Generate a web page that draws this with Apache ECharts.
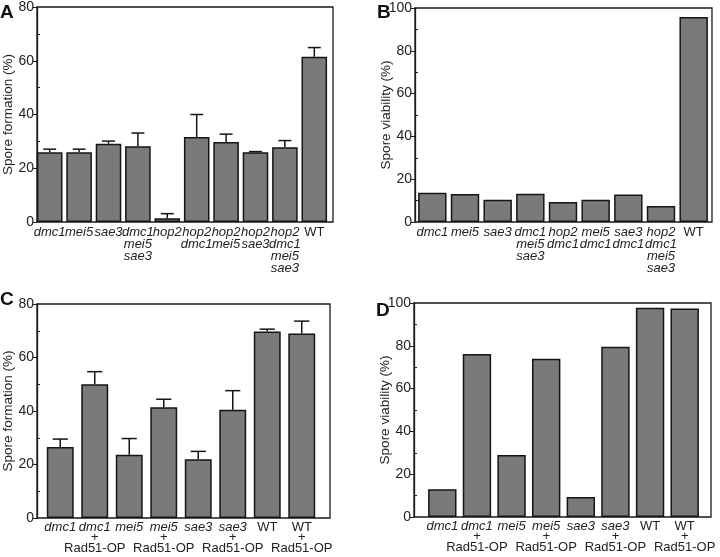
<!DOCTYPE html>
<html>
<head>
<meta charset="utf-8">
<script src="https://cdn.jsdelivr.net/npm/echarts@6/dist/echarts.min.js"></script>
<style>
  html, body { margin: 0; padding: 0; background: #fff; }
  #chart { width: 720px; height: 557px; }
</style>
</head>
<body>
<div id="chart"></div>
<script>
// Panel A: spore formation
const catsA = ["dmc1", "mei5", "sae3", "dmc1\nmei5\nsae3", "hop2", "hop2\ndmc1", "hop2\nmei5", "hop2\nsae3", "hop2\ndmc1\nmei5\nsae3", "WT"];
const valuesA = [26.0, 26.0, 29.1, 28.2, 1.4, 31.6, 29.8, 26.0, 27.8, 61.5];
const errTopA = [27.1, 27.1, 30.1, 33.1, 3.1, 40.0, 32.7, 26.2, 30.3, 64.9];

// Panel B: spore viability
const catsB = ["dmc1", "mei5", "sae3", "dmc1\nmei5\nsae3", "hop2\ndmc1", "mei5\ndmc1", "sae3\ndmc1", "hop2\ndmc1\nmei5\nsae3", "WT"];
const valuesB = [13.7, 13.1, 10.4, 13.2, 9.3, 10.4, 12.8, 7.5, 95.8];

// Panels C and D: Rad51 overexpression
const catsCD = ["dmc1", "dmc1\n+\nRad51-OP", "mei5", "mei5\n+\nRad51-OP", "sae3", "sae3\n+\nRad51-OP", "WT", "WT\n+\nRad51-OP"];
const valuesC = [26.5, 50.0, 23.6, 41.4, 22.0, 40.5, 69.7, 69.0];
const errTopC = [29.5, 54.7, 29.7, 44.4, 24.9, 47.6, 70.6, 73.6];
const valuesD = [13.0, 76.2, 29.0, 73.9, 9.3, 79.5, 97.8, 97.4];

const FONT = "Liberation Sans, Arial, sans-serif";
const plain = new Set(["WT", "+", "Rad51-OP"]);

function catLabel(value) {
  return value
    .split("\n")
    .map((line) => (plain.has(line) ? "{r|" + line + "}" : "{i|" + line + "}"))
    .join("\n");
}

const panels = [
  { letter: "A", cats: catsA, values: valuesA, err: errTopA, max: 80, name: "Spore formation (%)",
    frame: { left: 35, right: 387, top: 7, bottom: 335 }, inner: { left: 35, right: 391 },
    gap: "13%", lh: 12, letterPos: [0, 3] },
  { letter: "B", cats: catsB, values: valuesB, err: null, max: 100, name: "Spore viability (%)",
    frame: { left: 415, right: 8, top: 8, bottom: 335 }, inner: { left: 416, right: 10 },
    gap: "13%", lh: 12, letterPos: [377, 3] },
  { letter: "C", cats: catsCD, values: valuesC, err: errTopC, max: 80, name: "Spore formation (%)",
    frame: { left: 33, right: 390, top: 304, bottom: 39 }, inner: { left: 43, right: 401 },
    gap: "22%", lh: 10.5, letterPos: [0, 290] },
  { letter: "D", cats: catsCD, values: valuesD, err: null, max: 100, name: "Spore viability (%)",
    frame: { left: 414, right: 9, top: 303, bottom: 40 }, inner: { left: 425, right: 18 },
    gap: "18%", lh: 10.5, letterPos: [376, 301] },
];

const grid = [];
const xAxis = [];
const yAxis = [];
const series = [];
const graphic = [];

panels.forEach((p, k) => {
  // grids: frame (box + y axis) and inner (bars, inset from the box)
  const frameGrid = k * 2;
  const innerGrid = k * 2 + 1;
  grid.push({ ...p.frame, show: true, borderColor: "#1a1a1a", borderWidth: 1.3, backgroundColor: "transparent" });
  grid.push({ left: p.inner.left, right: p.inner.right, top: p.frame.top, bottom: p.frame.bottom });

  // x axes: index 2k frame (hidden), 2k+1 categories
  xAxis.push({ type: "value", gridIndex: frameGrid, show: false });
  xAxis.push({
    type: "category",
    gridIndex: innerGrid,
    data: p.cats,
    axisLine: { show: false },
    axisTick: { show: false },
    axisLabel: {
      interval: 0,
      margin: 4,
      formatter: catLabel,
      lineHeight: p.lh,
      rich: {
        i: { fontFamily: FONT, fontSize: 13, fontStyle: "italic", color: "#222", lineHeight: p.lh },
        r: { fontFamily: FONT, fontSize: 13, color: "#222", lineHeight: p.lh },
      },
    },
  });

  // y axes: 3k labelled, 3k+1 inner (hidden), 3k+2 inside minor ticks
  yAxis.push({
    type: "value",
    gridIndex: frameGrid,
    position: "left",
    min: 0,
    max: p.max,
    interval: 20,
    axisLine: { show: true, lineStyle: { color: "#1a1a1a", width: 1.3 } },
    axisTick: { show: true, length: 4, lineStyle: { color: "#1a1a1a" } },
    splitLine: { show: false },
    axisLabel: { fontFamily: FONT, fontSize: 14, color: "#222", margin: 3 },
    name: p.name,
    nameLocation: "middle",
    nameGap: 22,
    nameMoveOverlap: false,
    nameTextStyle: { fontFamily: FONT, fontSize: 13.5, color: "#222" },
  });
  yAxis.push({ type: "value", gridIndex: innerGrid, min: 0, max: p.max, show: false });
  yAxis.push({
    type: "value",
    gridIndex: frameGrid,
    position: "left",
    min: 0,
    max: p.max,
    interval: 20,
    axisLine: { show: false },
    axisLabel: { show: false },
    splitLine: { show: false },
    axisTick: { show: false, inside: true },
    minorTick: { show: true, splitNumber: 2, length: 3, lineStyle: { color: "#1a1a1a" } },
  });

  series.push({
    type: "bar",
    xAxisIndex: k * 2 + 1,
    yAxisIndex: k * 3 + 1,
    data: p.values,
    barCategoryGap: p.gap,
    itemStyle: { color: "#7a7a7a", borderColor: "#151515", borderWidth: 1.5 },
  });

  if (p.err) {
    series.push({
      type: "custom",
      xAxisIndex: k * 2 + 1,
      yAxisIndex: k * 3 + 1,
      data: p.values.map((v, i) => [i, v, p.err[i]]),
      z: 5,
      renderItem: (params, api) => {
        const base = api.coord([api.value(0), api.value(1)]);
        const top = api.coord([api.value(0), api.value(2)]);
        const half = api.size([1, 0])[0] * 0.22;
        const style = { stroke: "#151515", lineWidth: 1.5 };
        return {
          type: "group",
          children: [
            { type: "line", shape: { x1: base[0], y1: base[1], x2: top[0], y2: top[1] }, style },
            { type: "line", shape: { x1: top[0] - half, y1: top[1], x2: top[0] + half, y2: top[1] }, style },
          ],
        };
      },
    });
  }

  graphic.push({
    type: "text",
    left: p.letterPos[0],
    top: p.letterPos[1],
    style: { text: p.letter, font: "bold 19px " + FONT, fill: "#111" },
  });
});

const chart = echarts.init(document.getElementById("chart"));
chart.setOption({
  animation: false,
  backgroundColor: "#fff",
  grid,
  xAxis,
  yAxis,
  series,
  graphic,
});
</script>
</body>
</html>
